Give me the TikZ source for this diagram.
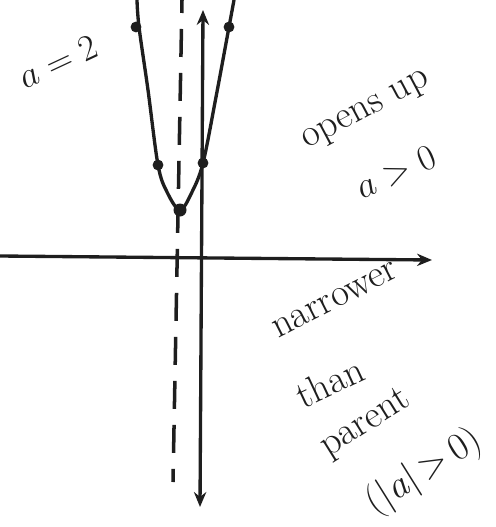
\documentclass[tikz,border=0pt]{standalone}
\usepackage{tikz}
\usetikzlibrary{arrows.meta}
\definecolor{pencil}{HTML}{1E1E1E}

\begin{document}
\begin{tikzpicture}[
    x=0.02cm, y=-0.02cm,
    dot/.style={circle, fill=pencil, inner sep=0pt, minimum size=6.2pt},
    note/.style={font=\fontsize{22}{26}\selectfont, text=pencil, inner sep=0pt},
]
    \useasboundingbox (0,0) rectangle (496,527);

    % axes
    \coordinate (xleft) at (0,256);
    \coordinate (xright) at (432,260);
    \coordinate (ybottom) at (200,507);
    \coordinate (ytop) at (203,10);
    \draw[line width=1.9pt, pencil, -{Stealth[length=8.5pt, width=7pt]}] (xleft) -- (xright);
    \draw[line width=1.9pt, pencil, {Stealth[length=8.5pt, width=7pt]}-{Stealth[length=8.5pt, width=7pt]}] (ybottom) -- (ytop);

    % axis of symmetry
    \coordinate (symtop) at (182,0);
    \coordinate (symbottom) at (173,482);
    \draw[line width=2pt, pencil, dash pattern=on 0.56cm off 0.32cm, dash phase=0.3cm] (symtop) -- (symbottom);

    % the parabola and its points
    \draw[line width=1.9pt, pencil] plot[smooth, tension=0.55] coordinates
        {(137,0) (139,27) (148,90) (158,165) (167,192) (180,210) (192,192) (203,163) (216,97) (229,27) (234,0)};
    \node[dot, minimum size=7.4pt] (vertex) at (180,210) {};
    \node[dot] (leftpt) at (158,165) {};
    \node[dot] (rightpt) at (203,163) {};
    \node[dot] (lefttop) at (136,27) {};
    \node[dot] (righttop) at (229,27) {};

    \node[note, rotate=25] (avalue) at (58,62) {$a=2$};
    \node[note, rotate=28] (opens) at (367,112) {opens up};
    \node[note, rotate=24] (apos) at (396,172) {$a>0$};
    \node[note, rotate=27] (narrow) at (335,300) {narrower};
    \node[note, rotate=25] (than) at (330,382) {than};
    \node[note, rotate=32] (parent) at (366,424) {parent};
    \node[note, rotate=32] (absa) at (424,472) {(|\textit{a}|\,>\,0)};
\end{tikzpicture}
\end{document}
